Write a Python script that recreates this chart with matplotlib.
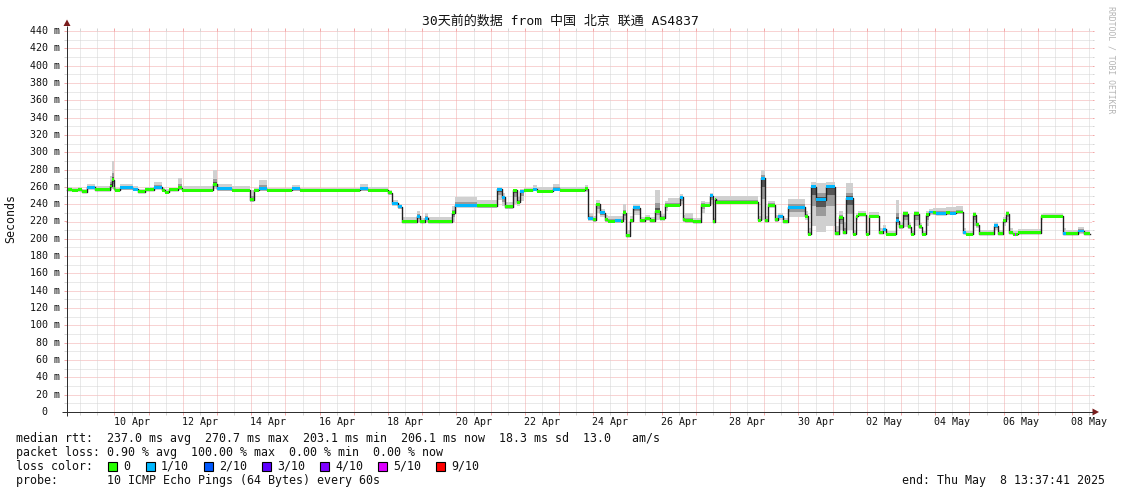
import datetime as dt
import matplotlib
matplotlib.use("Agg")
import matplotlib.pyplot as plt
from matplotlib.patches import Polygon, Rectangle
from matplotlib.lines import Line2D

W, H, DPI = 1121, 494, 100

# ---------------- data ----------------
# time in days since the graph start (Apr 8 13:37:41 2025)
t_days = [0.04, 0.19, 0.37, 0.48, 0.63, 0.86, 1.30, 1.36, 1.42, 1.45, 1.59, 1.97, 2.12, 2.32,
          2.59, 2.82, 2.91, 3.03, 3.29, 3.41, 4.31, 4.43, 4.87, 5.39, 5.51, 5.66, 5.89, 6.62,
          6.86, 8.61, 8.85, 9.43, 9.55, 9.72, 9.84, 10.28, 10.37, 10.51, 10.60, 11.30, 11.39,
          12.03, 12.62, 12.76, 12.85, 13.08, 13.20, 13.29, 13.41, 13.67, 13.79, 14.25, 14.46,
          15.19, 15.28, 15.42, 15.51, 15.63, 15.78, 15.86, 16.07, 16.24, 16.30, 16.39, 16.51,
          16.59, 16.80, 16.94, 17.09, 17.24, 17.38, 17.53, 17.62, 17.97, 18.05, 18.11, 18.35,
          18.58, 18.70, 18.84, 18.93, 18.99, 19.02, 20.26, 20.34, 20.45, 20.54, 20.75, 20.83,
          20.98, 21.13, 21.62, 21.71, 21.80, 21.94, 22.24, 22.50, 22.62, 22.73, 22.82, 23.02,
          23.11, 23.17, 23.41, 23.49, 23.79, 23.90, 23.99, 24.28, 24.37, 24.49, 24.63, 24.72,
          24.81, 24.96, 25.04, 25.16, 25.25, 25.37, 25.45, 25.75, 25.85, 26.04, 26.24, 26.33,
          26.54, 26.62, 26.71, 27.15, 27.27, 27.41, 27.50, 27.59, 27.71, 27.77, 27.80, 27.85,
          28.52, 28.58, 29.17, 29.26, 29.61, 29.78]
median_ms = [256.5, 256.0, 256.5, 254.5, 259.5, 256.5, 261, 268, 258, 256, 259, 257, 254.5, 256.5,
             259.5, 256, 254, 256.5, 259, 256, 263, 258, 256, 245, 256, 258, 256, 258,
             256, 258, 256, 253, 241, 237, 219.5, 226, 220, 224, 219.5, 230, 239,
             238, 257, 248, 237, 256, 242, 255, 256, 257, 255, 257, 256,
             258, 224, 222, 240, 230, 222, 220.5, 221, 220.5, 230, 203.5, 221,
             236, 221, 224, 221, 232, 224, 239, 238.5, 248, 222, 221, 220,
             239, 239, 250, 220, 246, 242, 221.5, 270, 221, 239, 222, 226,
             220, 236.5, 226, 205, 260, 245, 260, 206, 225, 207, 247, 205,
             226, 228, 205, 226, 207, 211, 205, 221, 214, 229, 214, 205,
             229, 214, 205, 228, 231, 230, 229, 230, 229.5, 231, 207, 205,
             228, 216, 206, 215, 206, 221, 229, 207, 205, 205, 205, 207,
             226, 226, 206, 206, 209, 206]
loss_tenths = [0, 0, 0, 0, 1, 0, 0, 0, 0, 0, 1, 1, 0, 0,
               1, 0, 0, 0, 0, 0, 0, 1, 0, 0, 0, 1, 0, 1,
               0, 1, 0, 0, 1, 1, 0, 1, 0, 1, 0, 0, 1,
               0, 1, 1, 0, 0, 0, 1, 0, 1, 0, 1, 0,
               0, 1, 0, 0, 1, 0, 0, 1, 0, 0, 0, 0,
               1, 0, 0, 0, 0, 0, 0, 0, 1, 0, 0, 0,
               0, 0, 1, 0, 0, 0, 0, 1, 0, 0, 0, 1,
               0, 1, 0, 0, 1, 1, 1, 0, 0, 0, 1, 0,
               0, 0, 0, 0, 0, 1, 0, 1, 0, 0, 0, 0,
               0, 0, 0, 0, 1, 0, 1, 0, 1, 0, 1, 0,
               0, 0, 0, 1, 0, 0, 0, 0, 0, 5, 0, 0,
               0, 0, 1, 0, 1, 0]
smoke_hi_ms = [260, 259, 260, 258, 263, 261, 272, 290, 266, 259, 263, 261, 258, 260,
               266, 259, 257, 259, 270, 261, 279, 263, 261, 256, 259, 268, 259, 262,
               259, 263, 260, 256, 245, 240, 225, 232, 224, 230, 225, 238, 248,
               245, 260, 253, 242, 258, 248, 258, 259, 262, 260, 263, 260,
               262, 230, 226, 245, 235, 227, 226, 226, 226, 240, 210, 226,
               240, 225, 228, 225, 256, 229, 244, 247, 252, 228, 230, 224,
               244, 243, 253, 224, 250, 249, 226, 280, 226, 244, 227, 230,
               224, 246, 232, 212, 266, 265, 266, 215, 232, 220, 264, 210,
               230, 232, 209, 231, 212, 216, 209, 245, 220, 232, 219, 209,
               232, 218, 209, 232, 234, 236, 236, 237, 237, 238, 212, 209,
               231, 220, 210, 220, 210, 225, 232, 212, 209, 209, 209, 211,
               229, 230, 212, 210, 214, 210]
smoke_lo_ms = [255, 254.5, 255, 253, 256, 255, 256, 258, 255, 254.5, 256, 255, 253, 255,
               256, 254.5, 252.5, 255, 256, 254.5, 257, 255, 254.5, 243, 254.5, 255, 254.5, 255,
               254.5, 255, 254.5, 251, 238, 234, 218, 219, 218.5, 219, 218, 220, 236,
               236, 245, 238, 235, 240, 238, 244, 254, 255, 253.5, 255, 254.5,
               254, 221, 220, 230, 225, 220, 219, 219, 219, 222, 202, 218,
               228, 219, 221, 219, 222, 221, 232, 237, 240, 220, 219, 218.5,
               230, 237, 240, 218, 235, 240.5, 219, 222, 219, 236, 220, 222,
               218.5, 225, 222, 203, 215, 208, 215, 204, 210, 205, 210, 203.5,
               222, 226, 203.5, 224, 205, 208, 203.5, 216, 211, 214, 211, 203.5,
               215, 211, 203.5, 215, 228, 228, 227, 228, 227, 229, 205, 203.5,
               215, 213, 204.5, 210, 204.5, 215, 222, 205, 203.5, 203.5, 203.5, 205,
               222, 224, 204, 204.5, 206, 204.5]
data_end_day = 29.95

y_ticks = list(range(0, 441, 20))
y_tick_labels = ["0"] + [f"{v} m" for v in y_ticks[1:]]
x_tick_labels = ["10 Apr", "12 Apr", "14 Apr", "16 Apr", "18 Apr", "20 Apr", "22 Apr", "24 Apr",
                 "26 Apr", "28 Apr", "30 Apr", "02 May", "04 May", "06 May", "08 May"]
x_tick_dates = [dt.datetime(2025, 4, d) for d in range(10, 31, 2)] + \
               [dt.datetime(2025, 5, d) for d in (2, 4, 6, 8)]
graph_start = dt.datetime(2025, 4, 8, 13, 37, 41)
graph_days = 30

loss_legend_labels = ["0", "1/10", "2/10", "3/10", "4/10", "5/10", "9/10"]
loss_legend_values = [0, 1, 2, 3, 4, 5, 9]
loss_legend_colors = ["#26ff00", "#00b8ff", "#0059ff", "#5e00ff", "#7e00ff", "#dd00ff", "#ff0000"]

title_text = "30天前的数据 from 中国 北京 联通 AS4837"
line_rtt = "median rtt:  237.0 ms avg  270.7 ms max  203.1 ms min  206.1 ms now  18.3 ms sd  13.0   am/s"
line_loss = "packet loss: 0.90 % avg  100.00 % max  0.00 % min  0.00 % now"
line_probe = "probe:       10 ICMP Echo Pings (64 Bytes) every 60s"
line_end = "end: Thu May  8 13:37:41 2025"

# ---------------- figure geometry ----------------
MONO = "DejaVu Sans Mono"
L_PX, R_PX, T_PX, B_PX = 65.5, 1091.5, 31, 412

def fx(px):
    return px / W

def fy(py):
    return 1 - py / H

def day_to_px(d):
    return L_PX + d * (R_PX - L_PX) / graph_days

def val_to_py(v):
    return B_PX - v * (B_PX - T_PX) / 440.0

fig = plt.figure(figsize=(W / DPI, H / DPI), dpi=DPI)
fig.patch.set_facecolor("white")
ax = fig.add_axes([fx(L_PX), fy(B_PX), (R_PX - L_PX) / W, (B_PX - T_PX) / H])
ax.set_xlim(0, graph_days)
ax.set_ylim(0, 440)
ax.set_axis_off()

def figline(xs, ys, color, lw=0.72, **kw):
    fig.add_artist(Line2D([fx(x) for x in xs], [fy(y) for y in ys], transform=fig.transFigure,
                          color=color, lw=lw, solid_capstyle="butt", **kw))

MINOR_C = "#d4d4d4"
MAJOR_C = "#f2a8a8"
DOT = (0, (1, 1))

# horizontal grid
for v in range(10, 441, 10):
    c = MAJOR_C if v % 20 == 0 else MINOR_C
    ax.plot([0, graph_days], [v, v], color=c, lw=0.72, linestyle=DOT, zorder=0)
    py = val_to_py(v)
    figline([64, 67], [py, py], c)
    figline([R_PX, R_PX + 2.5], [py, py], c)

# vertical grid: 12h minor, daily major (first midnight drawn minor as in reference)
def days_since_start(d):
    return (d - graph_start).total_seconds() / 86400.0

first_mid = dt.datetime(2025, 4, 9)
k = 0
while True:
    d = first_mid + dt.timedelta(hours=12 * k)
    td = days_since_start(d)
    if td > graph_days:
        break
    major = (d.hour == 0) and k > 0
    c = MAJOR_C if major else MINOR_C
    ax.plot([td, td], [0, 440], color=c, lw=0.72, linestyle=DOT, zorder=0)
    px = day_to_px(td)
    figline([px, px], [B_PX, B_PX + 2.5], c)
    figline([px, px], [T_PX, T_PX - 2.5], c)
    k += 1

# ---------------- smoke ----------------
t_edges = t_days + [data_end_day]
def ext(a):
    return list(a) + [a[-1]]

hi_e, lo_e, med_e = ext(smoke_hi_ms), ext(smoke_lo_ms), ext(median_ms)
ax.fill_between(t_edges, lo_e, hi_e, step="post", color="#d0d0d0", lw=0, zorder=1,
                antialiased=False)
mid_hi = [m + 0.38 * (h - m) for m, h in zip(med_e, hi_e)]
mid_lo = [m - 0.5 * (m - l) for m, l in zip(med_e, lo_e)]
ax.fill_between(t_edges, mid_lo, mid_hi, step="post", color="#9a9a9a", lw=0, zorder=1,
                antialiased=False)
in_hi = [m + 0.17 * (h - m) for m, h in zip(med_e, hi_e)]
in_lo = [m - 0.22 * (m - l) for m, l in zip(med_e, lo_e)]
ax.fill_between(t_edges, in_lo, in_hi, step="post", color="#555555", lw=0, zorder=1,
                antialiased=False)

# ---------------- median line + loss band ----------------
ax.step(t_edges, med_e, where="post", color="#202020", lw=1.0, zorder=2)
color_of = dict(zip(loss_legend_values, loss_legend_colors))
BW = 1.7
for i, m in enumerate(median_ms):
    ax.fill_between([t_edges[i], t_edges[i + 1]], [m - BW] * 2, [m + BW] * 2,
                    color=color_of[loss_tenths[i]], lw=0, zorder=3, antialiased=False)

# ---------------- axes + arrows ----------------
AXIS_C = "#303030"
ARROW_C = "#7a1c1c"
figline([67, 67], [416, 26], AXIS_C, lw=0.72)
figline([62, 1093], [412, 412], AXIS_C, lw=0.72)
fig.add_artist(Polygon([[fx(63.5), fy(26)], [fx(70.5), fy(26)], [fx(67), fy(19.5)]],
                       closed=True, transform=fig.transFigure, color=ARROW_C, lw=0))
fig.add_artist(Polygon([[fx(1092.5), fy(408.5)], [fx(1092.5), fy(415.5)], [fx(1099), fy(412)]],
                       closed=True, transform=fig.transFigure, color=ARROW_C, lw=0))

# ---------------- tick labels ----------------
AX_FS = 7.2
for v, lab in zip(y_ticks, y_tick_labels):
    xr = 60.5 if v else 47.5
    fig.text(fx(xr), fy(val_to_py(v)), lab, ha="right", va="center", family=MONO,
             fontsize=AX_FS, color="#111111")
for d, lab in zip(x_tick_dates, x_tick_labels):
    td = days_since_start(d + dt.timedelta(hours=12))
    fig.text(fx(day_to_px(td)), fy(421.5), lab, ha="center", va="center", family=MONO,
             fontsize=AX_FS, color="#111111")

# ---------------- titles ----------------
fig.text(fx(560.5), fy(21), title_text, ha="center", va="center",
         family=[MONO, "Noto Sans CJK SC"], fontsize=9.4, color="#111111")
fig.text(fx(11), fy(218), "Seconds", rotation=90, ha="center", va="center", family=MONO,
         fontsize=8.4, color="#111111")
fig.text(fx(1111), fy(60), "RRDTOOL / TOBI OETIKER", rotation=270, ha="center", va="center",
         family=MONO, fontsize=5.9, color="#b4b4b4")

# ---------------- legend block ----------------
LG_FS = 8.4
fig.text(fx(16), fy(438), line_rtt, ha="left", va="center", family=MONO, fontsize=LG_FS,
         color="#111111")
fig.text(fx(16), fy(452), line_loss, ha="left", va="center", family=MONO, fontsize=LG_FS,
         color="#111111")
fig.text(fx(16), fy(466), "loss color:", ha="left", va="center", family=MONO, fontsize=LG_FS,
         color="#111111")
box_left = [108, 146, 204, 262, 320, 378, 436]
for bl, lab, col in zip(box_left, loss_legend_labels, loss_legend_colors):
    fig.add_artist(Rectangle((fx(bl), fy(470.5)), 9 / W, 9 / H, transform=fig.transFigure,
                             facecolor=col, edgecolor="#000000", lw=0.8))
    fig.text(fx(bl + 15), fy(466), lab, ha="left", va="center", family=MONO, fontsize=LG_FS,
             color="#111111")
fig.text(fx(16), fy(480), line_probe, ha="left", va="center", family=MONO, fontsize=LG_FS,
         color="#111111")
fig.text(fx(1105), fy(480), line_end, ha="right", va="center", family=MONO, fontsize=LG_FS,
         color="#111111")

fig.savefig("out.png", dpi=DPI, facecolor="white")
